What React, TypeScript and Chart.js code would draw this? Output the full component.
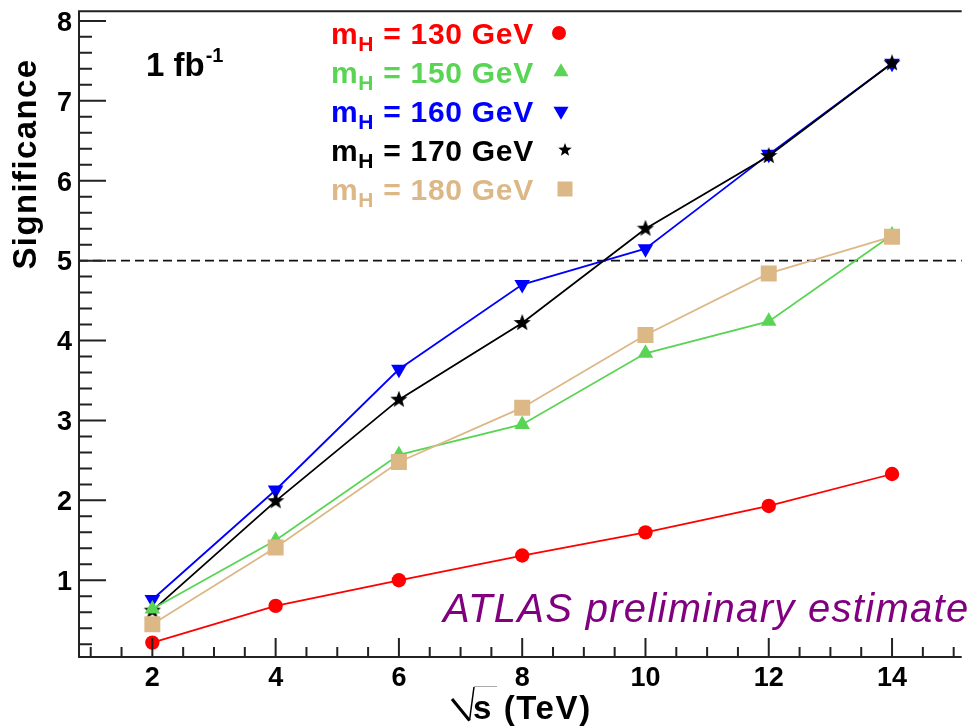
import React, { useEffect, useRef } from "react";
import { Chart, registerables } from "chart.js";

Chart.register(...registerables);

// ---- data ----
const energies = [2, 4, 6, 8, 10, 12, 14];
const sig130 = [0.22, 0.68, 1.0, 1.31, 1.6, 1.93, 2.33];
const sig150 = [0.64, 1.5, 2.57, 2.95, 3.84, 4.24, 5.32];
const sig160 = [0.76, 2.13, 3.64, 4.7, 5.15, 6.33, 7.47];
const sig170 = [0.62, 1.99, 3.26, 4.22, 5.4, 6.31, 7.47];
const sig180 = [0.45, 1.41, 2.48, 3.16, 4.07, 4.84, 5.3];
const massLabels = ["130", "150", "160", "170", "180"];
const xTickLabels = [2, 4, 6, 8, 10, 12, 14];
const yTickLabels = [1, 2, 3, 4, 5, 6, 7, 8];
const discoveryLevel = 5;
const xTitle = "s (TeV)";
const yTitle = "Significance";
const lumiText = "1 fb";
const lumiExp = "-1";
const atlasText = "ATLAS preliminary estimate";

const COLORS = ["#ff0000", "#59d454", "#0000ff", "#000000", "#ddb887"];
const FONT = '"Liberation Sans", Arial, Helvetica, sans-serif';

function makeStar(size: number, color: string) {
  const c = document.createElement("canvas");
  c.width = size;
  c.height = size;
  const g = c.getContext("2d")!;
  const cx = size / 2, cy = size / 2, R = size / 2, r = R * 0.42;
  g.beginPath();
  for (let i = 0; i < 10; i++) {
    const a = -Math.PI / 2 + (i * Math.PI) / 5;
    const rad = i % 2 === 0 ? R : r;
    g.lineTo(cx + rad * Math.cos(a), cy + rad * Math.sin(a));
  }
  g.closePath();
  g.fillStyle = color;
  g.fill();
  return c;
}

function drawMarker(ctx: CanvasRenderingContext2D, kind: number, x: number, y: number, color: string, star: HTMLCanvasElement) {
  ctx.save();
  ctx.fillStyle = color;
  ctx.beginPath();
  if (kind === 0) {
    ctx.arc(x, y, 7, 0, Math.PI * 2);
    ctx.fill();
  } else if (kind === 1 || kind === 2) {
    const r = 8.7;
    const rot = kind === 2 ? Math.PI : 0;
    for (let i = 0; i < 3; i++) {
      const a = rot + (i * 2 * Math.PI) / 3;
      ctx.lineTo(x + Math.sin(a) * r, y - Math.cos(a) * r);
    }
    ctx.closePath();
    ctx.fill();
  } else if (kind === 3) {
    ctx.drawImage(star, x - star.width / 2, y - star.height / 2);
  } else {
    ctx.fillRect(x - 7.5, y - 7.5, 15, 15);
  }
  ctx.restore();
}

export default function App() {
  const ref = useRef<HTMLCanvasElement | null>(null);

  useEffect(() => {
    const canvas = ref.current!;
    const star = makeStar(18, "#000000");
    const legendStar = makeStar(14, "#000000");

    const mk = (vals: number[]) => energies.map((e, i) => ({ x: e, y: vals[i] }));
    const series = [sig130, sig150, sig160, sig170, sig180];
    const styles: any[] = ["circle", "triangle", "triangle", star, "rect"];
    const radii = [7.2, 9, 9, 9, 11.3];
    const rotations = [0, 0, 180, 0, 0];
    const orders = [4, 1, 3, 2, 0];

    const decor = {
      id: "decor",
      beforeDatasetsDraw(chart: any) {
        const { ctx, chartArea: a, scales } = chart;
        const py = scales.y.getPixelForValue(discoveryLevel);
        ctx.save();
        ctx.setLineDash([9, 5]);
        ctx.strokeStyle = "#111";
        ctx.lineWidth = 1.6;
        ctx.beginPath();
        ctx.moveTo(a.left, py);
        ctx.lineTo(a.right, py);
        ctx.stroke();
        ctx.restore();
      },
      afterDraw(chart: any) {
        const { ctx, chartArea: a, scales } = chart;
        const xs = scales.x, ys = scales.y;
        ctx.save();
        // frame
        ctx.strokeStyle = "#222";
        ctx.lineWidth = 2;
        ctx.beginPath();
        ctx.moveTo(a.right, a.top);
        ctx.lineTo(a.left, a.top);
        ctx.lineTo(a.left, a.bottom);
        ctx.lineTo(a.right, a.bottom);
        ctx.stroke();
        // x ticks
        ctx.beginPath();
        for (let k = Math.ceil(xs.min * 2); k <= Math.floor(xs.max * 2); k++) {
          const v = k / 2;
          const px = xs.getPixelForValue(v);
          const major = k % 4 === 0;
          ctx.moveTo(px, a.bottom);
          ctx.lineTo(px, a.bottom - (major ? 19 : 10));
        }
        // y ticks
        for (let k = 1; k <= Math.floor(ys.max * 5); k++) {
          const v = k / 5;
          const py = ys.getPixelForValue(v);
          const major = k % 5 === 0;
          ctx.moveTo(a.left, py);
          ctx.lineTo(a.left + (major ? 27 : 13), py);
        }
        ctx.stroke();

        // tick labels
        ctx.fillStyle = "#000";
        ctx.font = `bold 27px ${FONT}`;
        ctx.textAlign = "center";
        ctx.textBaseline = "alphabetic";
        xTickLabels.forEach((v) => {
          ctx.fillText(String(v), xs.getPixelForValue(v), 685.5);
        });
        ctx.textAlign = "right";
        yTickLabels.forEach((v) => {
          ctx.fillText(String(v), 72, ys.getPixelForValue(v) + 9.8);
        });

        // y title
        ctx.save();
        ctx.font = `bold 33px ${FONT}`;
        (ctx as any).letterSpacing = "1.4px";
        ctx.translate(36, 164);
        ctx.rotate(-Math.PI / 2);
        ctx.textAlign = "center";
        ctx.fillText(yTitle, 0, 0);
        ctx.restore();

        // x title with radical sign
        ctx.save();
        ctx.strokeStyle = "#000";
        ctx.lineWidth = 3;
        ctx.beginPath();
        ctx.moveTo(452, 699);
        ctx.lineTo(469.5, 720.5);
        ctx.stroke();
        ctx.lineWidth = 1.5;
        ctx.beginPath();
        ctx.moveTo(469.5, 720.5);
        ctx.lineTo(474, 687);
        ctx.stroke();
        ctx.strokeStyle = "#aaa";
        ctx.lineWidth = 1;
        ctx.beginPath();
        ctx.moveTo(474, 686.5);
        ctx.lineTo(497, 686.5);
        ctx.stroke();
        ctx.font = `bold 33px ${FONT}`;
        (ctx as any).letterSpacing = "1.6px";
        ctx.textAlign = "left";
        ctx.fillText(xTitle, 473, 718.5);
        ctx.restore();

        // luminosity
        ctx.save();
        ctx.font = `bold 33px ${FONT}`;
        ctx.textAlign = "left";
        ctx.fillText(lumiText, 146, 75.5);
        const w = ctx.measureText(lumiText).width;
        ctx.font = `bold 20px ${FONT}`;
        ctx.fillText(lumiExp, 146 + w + 1, 62);
        ctx.restore();

        // legend
        const bases = [44, 83, 122, 161, 200];
        const markerX = [559, 561, 561, 565, 565];
        massLabels.forEach((m, i) => {
          const b = bases[i];
          ctx.save();
          ctx.fillStyle = COLORS[i];
          ctx.textAlign = "left";
          (ctx as any).letterSpacing = "0.7px";
          ctx.font = `bold 30px ${FONT}`;
          let x = 331;
          ctx.fillText("m", x, b);
          x += ctx.measureText("m").width;
          ctx.font = `bold 21px ${FONT}`;
          ctx.fillText("H", x, b + 7);
          x += ctx.measureText("H").width;
          ctx.font = `bold 30px ${FONT}`;
          ctx.fillText(` = ${m} GeV`, x, b);
          ctx.restore();
          drawMarker(ctx, i, markerX[i], b - 11, COLORS[i], legendStar);
        });

        // ATLAS label
        ctx.save();
        ctx.fillStyle = "#800080";
        ctx.font = `italic 40px ${FONT}`;
        (ctx as any).letterSpacing = "1.3px";
        ctx.textAlign = "left";
        ctx.fillText(atlasText, 443, 622);
        ctx.restore();

        ctx.restore();
      },
    };

    const chart = new Chart(canvas, {
      type: "line",
      data: {
        datasets: series.map((vals, i) => ({
          label: `m_H = ${massLabels[i]} GeV`,
          data: mk(vals),
          borderColor: COLORS[i],
          backgroundColor: COLORS[i],
          borderWidth: 1.8,
          pointStyle: styles[i],
          pointRadius: radii[i],
          pointRotation: rotations[i],
          pointBackgroundColor: COLORS[i],
          pointBorderWidth: 0,
          pointBorderColor: COLORS[i],
          order: orders[i],
          tension: 0,
          fill: false,
        })),
      },
      options: {
        responsive: false,
        animation: false,
        devicePixelRatio: 1,
        layout: { padding: { left: 79, top: 10, right: 0, bottom: 70 } },
        plugins: { legend: { display: false }, tooltip: { enabled: false } },
        scales: {
          x: { type: "linear", min: 0.81, max: 15.13, display: false },
          y: { type: "linear", min: 0.04, max: 8.12, display: false },
        },
      },
      plugins: [decor],
    });
    return () => chart.destroy();
  }, []);

  return (
    <div style={{ position: "fixed", left: 0, top: 0, width: 973, height: 727, background: "#fff" }}>
      <canvas ref={ref} width={973} height={727} />
    </div>
  );
}
